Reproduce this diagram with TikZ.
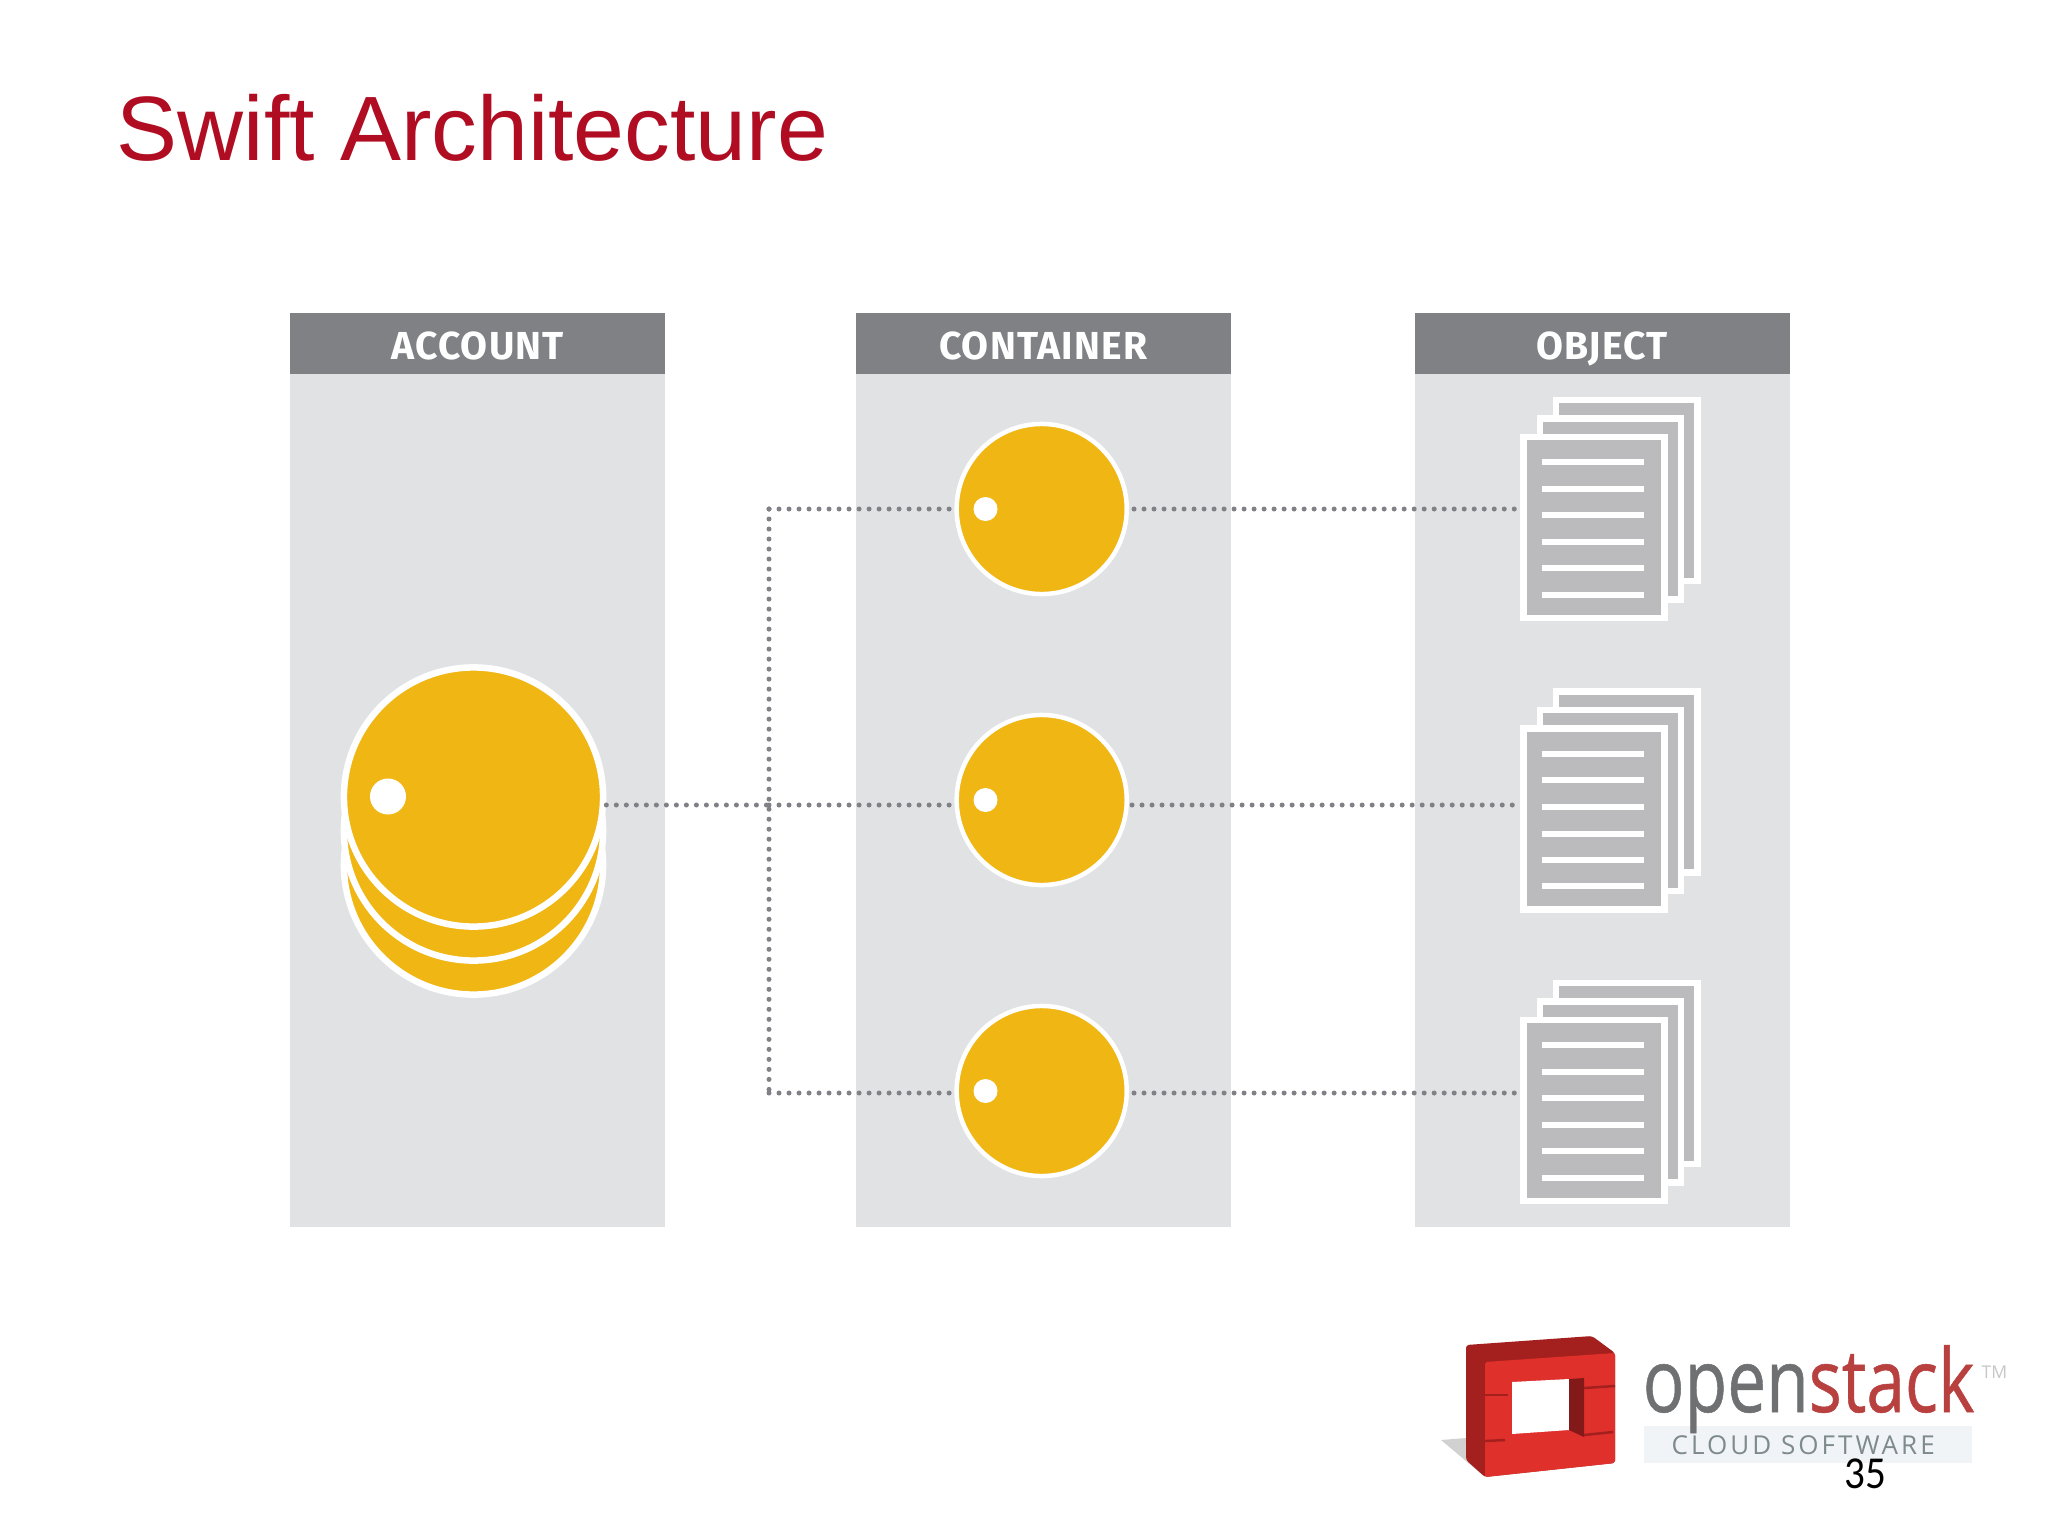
\documentclass[tikz,border=0pt]{standalone}
\usepackage{fontspec}
\usepackage{graphicx}
\setmainfont{Liberation Sans}
\newfontfamily\labelfont{Fira Sans}
\newfontfamily\logofont{Open Sans}
\newfontfamily\numfont{Carlito}
\definecolor{panelgray}{HTML}{E1E2E4}
\definecolor{headgray}{HTML}{808184}
\definecolor{gold}{HTML}{F0B614}
\definecolor{dotgray}{HTML}{808087}
\definecolor{sheet}{HTML}{BBBBBD}
\definecolor{titlered}{HTML}{B00D23}
\definecolor{logodark}{HTML}{A4201E}
\definecolor{logored}{HTML}{E0302C}
\definecolor{stackred}{HTML}{B8403F}
\definecolor{opengray}{HTML}{6F7072}
\definecolor{cloudgray}{HTML}{7E8A8E}
\definecolor{bandblue}{HTML}{F1F4F6}
\tikzset{
  panelbody/.style={fill=panelgray,draw=none,minimum width=3.75cm,minimum height=8.52cm,inner sep=0pt,outer sep=0pt},
  panelhead/.style={fill=headgray,draw=none,minimum width=3.75cm,minimum height=0.61cm,inner sep=0pt,outer sep=0pt,text=white,text height=0.31cm,text depth=0cm,font=\labelfont\bfseries\fontsize{11.1pt}{13pt}\selectfont\addfontfeature{LetterSpace=3}},
  coin/.style={circle,fill=gold,draw=white,inner sep=0pt},
  smalldisc/.style={coin,line width=0.045cm,minimum size=1.7cm},
  bigdisc/.style={coin,line width=0.065cm,minimum size=2.59cm},
  hole/.style={circle,fill=white,draw=none,inner sep=0pt},
  paper/.style={rectangle,fill=sheet,draw=white,line width=0.065cm,minimum width=1.41cm,minimum height=1.81cm,inner sep=0pt},
  textline/.style={draw=white,line width=0.06cm},
  dotline/.style={draw=dotgray,line width=0.05cm,line cap=round,dash pattern=on 0pt off 0.1cm},
}
\newcommand{\docstack}[2]{%
  \node[paper] (#1c) at (1626.7,{#2+490.5}) {};
  \node[paper] (#1b) at (1610.3,{#2+509}) {};
  \node[paper] (#1a) at (1594,{#2+527.5}) {};
  \foreach \ly in {462.3,488.7,515.3,542,568,594.7}
    \draw[textline] (1542.3,{#2+\ly}) -- (1644.3,{#2+\ly});
}
\begin{document}
\begin{tikzpicture}[x=0.01cm,y=-0.01cm]
\useasboundingbox (0,0) rectangle (2048,1536);
\fill[white] (0,0) rectangle (2048,1536);

\node[anchor=base west,inner sep=0pt,text=titlered,font=\fontsize{26pt}{30pt}\selectfont] (title) at (116,160) {Swift Architecture};

% panels
\node[panelbody,anchor=north west] (pa) at (290,374) {};
\node[panelbody,anchor=north west] (pc) at (855.5,374) {};
\node[panelbody,anchor=north west] (po) at (1414.5,374) {};
\node[panelhead,anchor=north west] (ha) at (290,313) {ACCOUNT};
\node[panelhead,anchor=north west] (hc) at (855.5,313) {CONTAINER};
\node[panelhead,anchor=north west] (ho) at (1414.5,313) {OBJECT};

% named points of the dotted bus
\coordinate (bustop) at (769,509);
\coordinate (busmid) at (769,805);
\coordinate (busbot) at (769,1093);

% account stack
\node[bigdisc] (acct3) at (473.5,865) {};
\node[bigdisc] (acct2) at (473.5,831) {};
\node[bigdisc] (acct) at (473.5,797) {};
\node[hole,minimum size=0.36cm] (accth) at (388,796.5) {};

% containers
\node[smalldisc] (c1) at (1041.7,509) {};
\node[smalldisc] (c2) at (1041.7,800) {};
\node[smalldisc] (c3) at (1041.7,1091) {};
\node[hole,minimum size=0.24cm] (c1h) at (985.5,509) {};
\node[hole,minimum size=0.24cm] (c2h) at (985.5,800) {};
\node[hole,minimum size=0.24cm] (c3h) at (985.5,1091) {};

% objects
\docstack{d1}{0}
\docstack{d2}{291.5}
\docstack{d3}{583}

% connectors
\draw[dotline] (busmid -| acct.east) -- (busmid);
\draw[dotline] (bustop) -- (busbot);
\draw[dotline,shorten >=0.05cm] (bustop) -- (bustop -| c1.west);
\draw[dotline,shorten >=0.03cm] (busmid) -- (busmid -| c2.west);
\draw[dotline,shorten >=0.05cm] (busbot) -- (busbot -| c3.west);
\draw[dotline,shorten <=0.05cm,shorten >=0.05cm] (bustop -| c1.east) -- (bustop -| d1a.west);
\draw[dotline,shorten <=0.03cm,shorten >=0.03cm] (busmid -| c2.east) -- (busmid -| d2a.west);
\draw[dotline,shorten <=0.05cm,shorten >=0.05cm] (busbot -| c3.east) -- (busbot -| d3a.west);

% logo
\fill[black!18] (1441,1440) -- (1466,1438) -- (1485,1477) -- cycle;
\fill[logodark,rounded corners=0.03cm] (1466,1345) -- (1592,1336) -- (1615,1353) -- (1615,1463) -- (1485,1477) -- (1466,1460) -- cycle;
\fill[logored,rounded corners=0.02cm] (1485,1362) -- (1615,1353) -- (1615,1463) -- (1485,1477) -- cycle;
\fill[white] (1512,1382) -- (1569,1379) -- (1569,1430) -- (1512,1434) -- cycle;
\fill[logodark!80!black] (1569,1379) -- (1584,1378) -- (1584,1437) -- (1569,1430) -- cycle;
\draw[logodark,line width=0.025cm] (1466,1395) -- (1508,1395);
\draw[logodark,line width=0.025cm] (1466,1442) -- (1505,1440);
\draw[logodark,line width=0.025cm] (1584,1388) -- (1615,1386);
\draw[logodark,line width=0.025cm] (1584,1435) -- (1613,1432);

\fill[bandblue] (1644,1426) rectangle (1972,1463);
\node[anchor=base west,inner sep=0pt,text=opengray,font=\logofont\fontsize{25pt}{30pt}\selectfont\addfontfeature{FakeBold=0.6}] (logoopen) at (1642,1412) {\scalebox{0.79}[1]{open}};
\node[anchor=base west,inner sep=0pt,text=stackred,font=\logofont\fontsize{25pt}{30pt}\selectfont\addfontfeature{FakeBold=0.6}] (logostack) at (1808,1412) {\scalebox{0.79}[1]{stack}};
\node[anchor=base west,inner sep=0pt,text=black!22,font=\logofont\fontsize{5pt}{6pt}\selectfont] (logotm) at (1981,1378) {TM};
\node[anchor=base west,inner sep=0pt,text=cloudgray,font=\logofont\fontsize{7.4pt}{9pt}\selectfont\addfontfeature{LetterSpace=11.6}] (logocloud) at (1671,1454) {CLOUD SOFTWARE};

\node[anchor=base,inner sep=0pt,text=black,font=\numfont\fontsize{13pt}{15pt}\selectfont] (pagenum) at (1865,1488) {\scalebox{0.9}[1]{35}};
\end{tikzpicture}
\end{document}
